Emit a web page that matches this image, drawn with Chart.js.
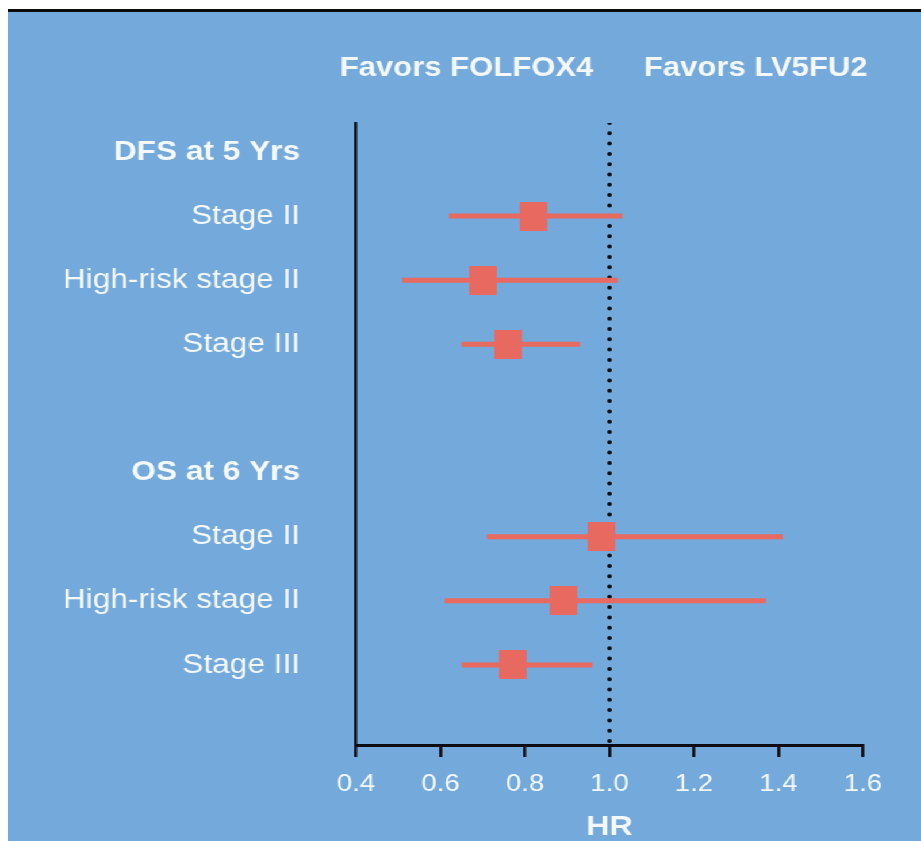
<!DOCTYPE html>
<html>
<head>
<meta charset="utf-8">
<title>Hazard ratios: DFS and OS by stage</title>
<script src="https://cdn.jsdelivr.net/npm/chart.js@4.4.1/dist/chart.umd.min.js"></script>
<style>
  html, body { margin: 0; padding: 0; background: #ffffff; width: 921px; height: 841px; overflow: hidden; }
  #rule { position: absolute; left: 8px; top: 9px; width: 913px; height: 3px; background: #0b0b0b; }
  #panel {
    position: absolute; left: 8px; top: 12px; width: 794px; height: 829px;
    background: #73a9db; transform: scaleX(1.15); transform-origin: 0 0;
  }
  #panel canvas { display: block; }
</style>
</head>
<body>
<div id="rule"></div>
<div id="panel"><canvas id="forest" width="794" height="829"></canvas></div>
<script>
// Row labels, top to bottom (empty string = spacer row)
const rowLabels = ['DFS at 5 Yrs', 'Stage II', 'High-risk stage II', 'Stage III', '',
                   'OS at 6 Yrs', 'Stage II', 'High-risk stage II', 'Stage III'];
const headerRows = [0, 5];

// Estimates: row index, hazard ratio, lower and upper CI bounds
const estimateRows = [1, 2, 3, 6, 7, 8];
const hazardRatio  = [0.82, 0.70, 0.76, 0.98, 0.89, 0.77];
const ciLower      = [0.62, 0.51, 0.65, 0.71, 0.61, 0.65];
const ciUpper      = [1.03, 1.02, 0.93, 1.41, 1.37, 0.96];

// HR axis ticks and the no-effect reference
const hrTicks = [0.4, 0.6, 0.8, 1.0, 1.2, 1.4, 1.6];
const referenceHR = 1.0;
const sideText = ['Favors FOLFOX4', 'Favors LV5FU2'];

const FONT = "'Liberation Sans', Arial, Helvetica, sans-serif";
const WHITE = '#f6f9fc';
const RED = '#e8695f';
const INK = '#0d0d0f';
const Y_MIN = -0.452, Y_MAX = 9.248;

function squareMarker(w, h, color) {
  const c = document.createElement('canvas');
  c.width = w; c.height = h;
  const g = c.getContext('2d');
  g.fillStyle = color;
  g.fillRect(0, 0, w, h);
  return c;
}

const datasets = [];
// point estimates
datasets.push({
  type: 'scatter',
  data: estimateRows.map((r, i) => ({ x: hazardRatio[i], y: r })),
  pointStyle: squareMarker(24, 29, RED),
  pointRadius: 14,
  order: 0
});
// confidence intervals
estimateRows.forEach((r, i) => {
  datasets.push({
    type: 'line',
    data: [{ x: ciLower[i], y: r }, { x: ciUpper[i], y: r }],
    borderColor: RED,
    borderWidth: 5,
    borderCapStyle: 'butt',
    pointRadius: 0,
    order: 1
  });
});
// dotted line of no effect
datasets.push({
  type: 'line',
  data: [{ x: referenceHR, y: Y_MIN }, { x: referenceHR, y: Y_MAX }],
  borderColor: INK,
  borderWidth: 4,
  borderDash: [0, 10.3],
  borderCapStyle: 'round',
  pointRadius: 0,
  order: 2
});

const sideLabels = {
  id: 'sideLabels',
  afterDraw(chart) {
    const { ctx, scales: { x } } = chart;
    const px = x.getPixelForValue(referenceHR);
    ctx.save();
    ctx.font = `bold 27px ${FONT}`;
    ctx.fillStyle = WHITE;
    ctx.textBaseline = 'middle';
    ctx.textAlign = 'right';
    ctx.fillText(sideText[0], px - 14, 57);
    ctx.textAlign = 'left';
    ctx.fillText(sideText[1], px + 30, 57);
    ctx.restore();
  }
};

new Chart(document.getElementById('forest'), {
  type: 'scatter',
  data: { datasets },
  plugins: [sideLabels],
  options: {
    responsive: false,
    devicePixelRatio: 1,
    animation: false,
    layout: { padding: { top: 111, right: 50.5, bottom: 0, left: 0 } },
    plugins: { legend: { display: false }, tooltip: { enabled: false } },
    scales: {
      x: {
        type: 'linear',
        min: 0.4, max: 1.6,
        afterBuildTicks: (s) => { s.ticks = hrTicks.map(v => ({ value: v })); },
        afterFit: (s) => { s.height = 96; },
        grid: { drawOnChartArea: false, drawTicks: true, tickLength: 12, color: INK, lineWidth: 2.6 },
        border: { display: true, color: INK, width: 3 },
        ticks: {
          color: WHITE, padding: 13,
          font: { family: FONT, size: 24 },
          callback: (v) => Number(v).toFixed(1)
        },
        title: {
          display: true, text: 'HR', color: WHITE,
          font: { family: FONT, size: 28, weight: 'bold' },
          padding: { top: 0, bottom: -3 }
        }
      },
      y: {
        type: 'linear',
        reverse: true,
        min: Y_MIN, max: Y_MAX,
        afterBuildTicks: (s) => {
          s.ticks = rowLabels.map((l, i) => ({ value: i })).filter(t => rowLabels[t.value] !== '');
        },
        afterFit: (s) => { s.width = 302.6; },
        grid: { display: false, drawTicks: false },
        border: { display: true, color: INK, width: 2.6 },
        ticks: {
          color: WHITE, padding: 48.6,
          font: (ctx) => ({
            family: FONT, size: 27.5,
            weight: ctx.tick && headerRows.includes(ctx.tick.value) ? 'bold' : 'normal'
          }),
          callback: (v) => rowLabels[v]
        }
      }
    }
  }
});
</script>
</body>
</html>
